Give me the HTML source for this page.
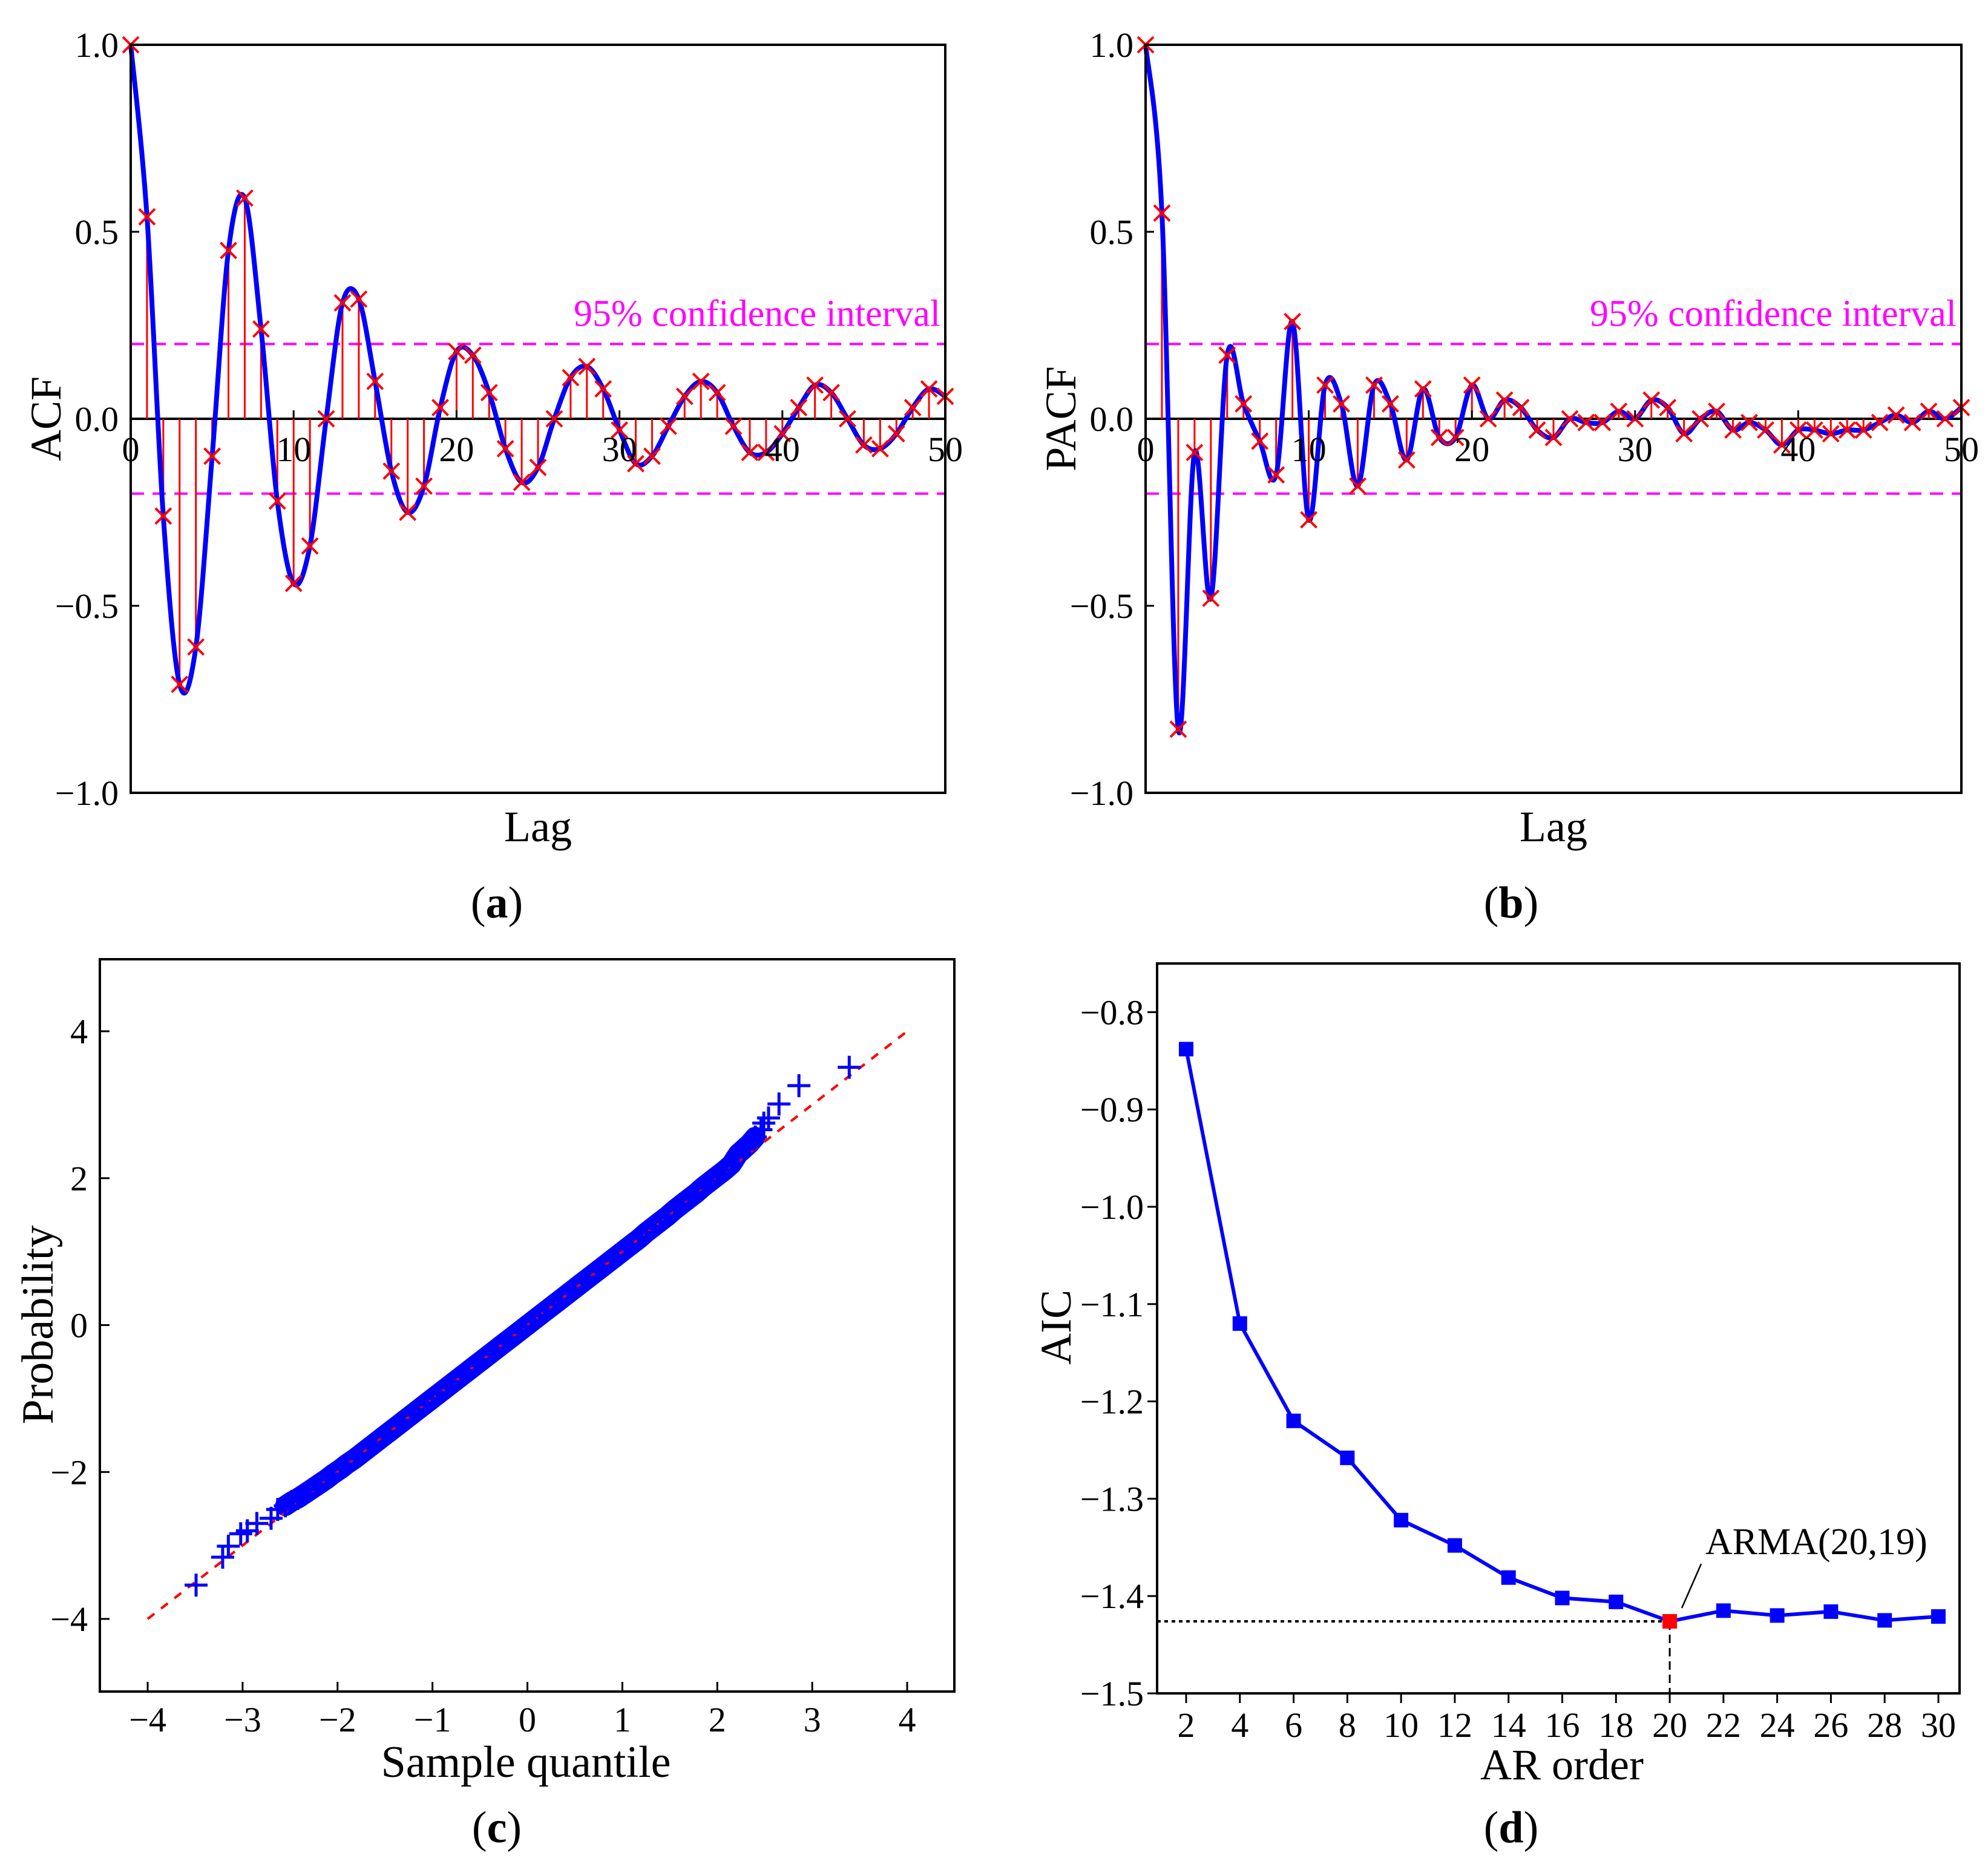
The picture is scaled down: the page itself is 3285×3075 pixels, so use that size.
<!DOCTYPE html>
<html><head><meta charset="utf-8"><style>
html,body{margin:0;padding:0;background:#fff;}
svg{display:block;font-family:"Liberation Serif",serif;}
</style></head><body>
<svg id="fig" width="3285" height="3075" viewBox="0 0 3285 3075" xmlns="http://www.w3.org/2000/svg">
<rect width="3285" height="3075" fill="#fff"/>
</svg>
<script>
const lags = [0,1,2,3,4,5,6,7,8,9,10,11,12,13,14,15,16,17,18,19,20,21,22,23,24,25,26,27,28,29,30,31,32,33,34,35,36,37,38,39,40,41,42,43,44,45,46,47,48,49,50];
const acfValues = [1.0,0.54,-0.26,-0.71,-0.61,-0.10,0.45,0.59,0.24,-0.22,-0.44,-0.34,0.0,0.31,0.32,0.10,-0.14,-0.25,-0.18,0.03,0.18,0.17,0.07,-0.08,-0.17,-0.13,0.0,0.11,0.14,0.08,-0.03,-0.12,-0.10,-0.02,0.06,0.10,0.07,-0.02,-0.09,-0.09,-0.04,0.03,0.09,0.07,0.0,-0.07,-0.08,-0.04,0.03,0.08,0.06];
const pacfValues = [1.0,0.55,-0.83,-0.09,-0.48,0.17,0.04,-0.06,-0.15,0.26,-0.27,0.09,0.04,-0.18,0.09,0.04,-0.11,0.08,-0.05,-0.05,0.09,0.0,0.05,0.03,-0.03,-0.05,0.0,-0.01,-0.01,0.02,0.0,0.05,0.03,-0.04,0.0,0.02,-0.03,-0.01,-0.03,-0.07,-0.03,-0.03,-0.04,-0.03,-0.03,-0.01,0.01,-0.01,0.02,0.0,0.03];
const confLevel = 0.2;
const corrTicks = [1.0,0.5,0.0,-0.5,-1.0];
const corrTickLabels = ["1.0","0.5","0.0","\u22120.5","\u22121.0"];
const lagTicks = [0,10,20,30,40,50];
const qqX = [-3.49,-3.21,-3.15,-3.02,-2.95,-2.85,-2.70,-2.63,-2.55,-2.48,-2.42,-2.35,-2.28,-2.2,-2.12,-2.05,-1.97,-1.9,-1.82,-1.75,-1.67,-1.6,-1.52,-1.45,-1.37,-1.3,-1.22,-1.15,-1.07,-1.0,-0.92,-0.85,-0.77,-0.7,-0.62,-0.55,-0.47,-0.4,-0.32,-0.25,-0.17,-0.1,-0.02,0.05,0.13,0.2,0.28,0.35,0.43,0.5,0.58,0.65,0.73,0.8,0.88,0.95,1.03,1.1,1.18,1.25,1.33,1.4,1.48,1.55,1.63,1.7,1.78,1.85,1.93,2.0,2.08,2.15,2.22,2.28,2.34,2.40,2.46,2.49,2.54,2.65,2.86,3.39];
const qqY = [-3.54,-3.16,-3.01,-2.84,-2.80,-2.70,-2.63,-2.51,-2.46,-2.40,-2.36,-2.30,-2.24,-2.17,-2.10,-2.03,-1.96,-1.89,-1.82,-1.75,-1.67,-1.60,-1.52,-1.45,-1.37,-1.30,-1.22,-1.15,-1.07,-1.0,-0.92,-0.85,-0.77,-0.70,-0.62,-0.55,-0.47,-0.40,-0.32,-0.25,-0.17,-0.10,-0.02,0.05,0.13,0.2,0.28,0.35,0.43,0.5,0.58,0.65,0.73,0.8,0.88,0.95,1.03,1.1,1.18,1.26,1.34,1.41,1.49,1.57,1.65,1.72,1.80,1.88,1.96,2.03,2.11,2.19,2.33,2.40,2.47,2.56,2.66,2.75,2.82,3.01,3.26,3.51];
const qqTicks = [-4,-3,-2,-1,0,1,2,3,4];
const qqYTicks = [4,2,0,-2,-4];
const arOrders = [2,4,6,8,10,12,14,16,18,20,22,24,26,28,30];
const aicValues = [-0.838,-1.12,-1.22,-1.258,-1.322,-1.348,-1.381,-1.402,-1.406,-1.426,-1.415,-1.42,-1.416,-1.425,-1.421];
const aicTicks = [-0.8,-0.9,-1.0,-1.1,-1.2,-1.3,-1.4,-1.5];
const bestOrderIndex = 9;
const bestLabel = "ARMA(20,19)";

const NS = "http://www.w3.org/2000/svg";
const svg = document.getElementById('fig');
function mk(tag, attrs, parent, text){
  const e = document.createElementNS(NS, tag);
  for (const k in attrs) e.setAttribute(k, attrs[k]);
  if (text !== undefined) e.textContent = text;
  (parent || svg).appendChild(e);
  return e;
}
function catmull(pts){
  let d = "M" + pts[0][0] + "," + pts[0][1];
  for (let i = 0; i < pts.length - 1; i++){
    const p0 = pts[i-1] || pts[i], p1 = pts[i], p2 = pts[i+1], p3 = pts[i+2] || pts[i+1];
    const c1 = [p1[0] + (p2[0]-p0[0])/6, p1[1] + (p2[1]-p0[1])/6];
    const c2 = [p2[0] - (p3[0]-p1[0])/6, p2[1] - (p3[1]-p1[1])/6];
    d += " C" + c1[0] + "," + c1[1] + " " + c2[0] + "," + c2[1] + " " + p2[0] + "," + p2[1];
  }
  return d;
}

function corrPanel(key, L, R, vals, yTitle, letter, letterX){
  const T = 74, B = 1310;
  const g = mk('g', {});
  
  
  const X = v => L + (v - 0) / 50 * (R - L);
  const Y = v => (T + B) / 2 - v * (B - T) / 2;
  [confLevel, -confLevel].forEach((c, i) => {
    const l = mk('line', {x1:L, x2:R, y1:Y(c), y2:Y(c), stroke:'#ff00ff', 'stroke-width':4, 'stroke-dasharray':'22,14'}, g);
    
    
  });
  const ct = mk('text', {x:R - 8, y:Y(confLevel) - 30, 'font-size':62, fill:'#ff00ff', 'text-anchor':'end'}, g, '95% confidence interval');
  
  
  const z = mk('line', {x1:L, x2:R, y1:Y(0), y2:Y(0), stroke:'#000', 'stroke-width':4}, g);
  
  
  lags.forEach((k, i) => {
    const s = mk('line', {x1:X(k), x2:X(k), y1:Y(0), y2:Y(vals[i]), stroke:'#ff0000', 'stroke-width':3}, g);
    
    
  });
  const pts = lags.map((k, i) => [X(k), Y(vals[i])]);
  const c = mk('path', {d:catmull(pts), fill:'none', stroke:'#0000ff', 'stroke-width':8, 'stroke-linejoin':'round'}, g);
  
  
  lags.forEach((k, i) => {
    const x = X(k), y = Y(vals[i]), s = 13;
    const m = mk('path', {d:`M${x-s},${y-s}L${x+s},${y+s}M${x-s},${y+s}L${x+s},${y-s}`, stroke:'#ff0000', 'stroke-width':4, fill:'none'}, g);
    
    
  });
  const f = mk('rect', {x:L, y:T, width:R-L, height:B-T, fill:'none', stroke:'#000', 'stroke-width':4}, g);
  
  
  corrTicks.forEach((v, i) => {
    const t = mk('text', {x:L - 20, y:Y(v) + 20, 'font-size':58, 'text-anchor':'end'}, g, corrTickLabels[i]);
    
    
    const tk = mk('line', {x1:L, x2:L + 14, y1:Y(v), y2:Y(v), stroke:'#000', 'stroke-width':3}, g);
    
    
  });
  lagTicks.forEach(v => {
    const tk = mk('line', {x1:X(v), x2:X(v), y1:Y(0), y2:Y(0) - 14, stroke:'#000', 'stroke-width':3}, g);
    
    
    const t = mk('text', {x:X(v), y:Y(0) + 70, 'font-size':58, 'text-anchor':'middle'}, g, String(v));
    
    
  });
  const xl = mk('text', {x:(L+R)/2, y:1390, 'font-size':72, 'text-anchor':'middle'}, g, 'Lag');
  
  
  const yx = L - 140;
  const yl = mk('text', {x:yx, y:Y(0) + 24, 'font-size':72, 'text-anchor':'middle', transform:`rotate(-90 ${yx} ${Y(0)})`}, g, yTitle);
  
  
  const pl = mk('text', {x:letterX, y:1516, 'font-size':74, 'text-anchor':'middle'}, g);
  
  
  mk('tspan', {}, pl, '(');
  mk('tspan', {'font-weight':'bold'}, pl, letter);
  mk('tspan', {}, pl, ')');
}
corrPanel('acf', 216, 1562, acfValues, 'ACF', 'a', 821);
corrPanel('pacf', 1893, 3241, pacfValues, 'PACF', 'b', 2497);

(function(){
  const L = 165, R = 1577, T = 1585, B = 2795;
  const g = mk('g', {});
  
  
  const X = v => 244 + (v + 4) / 8 * (1499 - 244);
  const Y = v => 2675 - (v + 4) / 8 * (2675 - 1704);
  const ref = mk('line', {x1:X(-4), y1:Y(-4), x2:X(4), y2:Y(4), stroke:'#ff0000', 'stroke-width':4, 'stroke-dasharray':'14,14'}, g);
  
  
  const band = qqX.slice(8, 76).map((v, i) => X(v) + ',' + Y(qqY[i + 8])).join(' ');
  const bl = mk('polyline', {points:band, fill:'none', stroke:'#0000ff', 'stroke-width':34, 'stroke-linejoin':'round', 'stroke-linecap':'round'}, g);
  
  
  const ref2 = mk('line', {x1:X(-4), y1:Y(-4), x2:X(4), y2:Y(4), stroke:'#ff0000', 'stroke-width':4, 'stroke-dasharray':'14,14', opacity:0.9}, g);
  
  
  qqX.forEach((v, i) => {
    const x = X(v), y = Y(qqY[i]), s = 19;
    const m = mk('path', {d:`M${x-s},${y}L${x+s},${y}M${x},${y-s}L${x},${y+s}`, stroke:'#0000ff', 'stroke-width':5, fill:'none'}, g);
    
    
  });
  const f = mk('rect', {x:L, y:T, width:R-L, height:B-T, fill:'none', stroke:'#000', 'stroke-width':4}, g);
  
  
  qqTicks.forEach(v => {
    const tk = mk('line', {x1:X(v), x2:X(v), y1:B, y2:B - 16, stroke:'#000', 'stroke-width':3}, g);
    
    
    const t = mk('text', {x:X(v), y:B + 66, 'font-size':58, 'text-anchor':'middle'}, g, v < 0 ? '\u2212' + Math.abs(v) : String(v));
    
    
  });
  qqYTicks.forEach(v => {
    const tk = mk('line', {x1:L, x2:L + 16, y1:Y(v), y2:Y(v), stroke:'#000', 'stroke-width':3}, g);
    
    
    const t = mk('text', {x:L - 20, y:Y(v) + 20, 'font-size':58, 'text-anchor':'end'}, g, v < 0 ? '\u2212' + Math.abs(v) : String(v));
    
    
  });
  const xl = mk('text', {x:869, y:2936, 'font-size':74, 'text-anchor':'middle'}, g, 'Sample quantile');
  
  
  const yl = mk('text', {x:63, y:2213, 'font-size':74, 'text-anchor':'middle', transform:'rotate(-90 63 2189)'}, g, 'Probability');
  
  
  const pl = mk('text', {x:821, y:3044, 'font-size':74, 'text-anchor':'middle'}, g);
  
  
  mk('tspan', {}, pl, '(');
  mk('tspan', {'font-weight':'bold'}, pl, 'c');
  mk('tspan', {}, pl, ')');
})();

(function(){
  const L = 1912, R = 3238, T = 1592, B = 2798;
  const g = mk('g', {});
  
  
  const X = v => 1960 + (v - 2) / 28 * (3203 - 1960);
  const Y = v => B - (v + 1.5) / 0.75 * (B - T);
  const bx = X(arOrders[bestOrderIndex]), by = Y(aicValues[bestOrderIndex]);
  const hl = mk('line', {x1:L, x2:bx, y1:by, y2:by, stroke:'#000', 'stroke-width':4, 'stroke-dasharray':'6,6'}, g);
  
  
  const vl = mk('line', {x1:bx, x2:bx, y1:by, y2:B, stroke:'#000', 'stroke-width':3, 'stroke-dasharray':'14,8'}, g);
  
  
  const line = mk('polyline', {points:arOrders.map((o, i) => X(o) + ',' + Y(aicValues[i])).join(' '), fill:'none', stroke:'#0000ff', 'stroke-width':6}, g);
  
  
  arOrders.forEach((o, i) => {
    const m = mk('rect', {x:X(o) - 12, y:Y(aicValues[i]) - 12, width:24, height:24, fill: i === bestOrderIndex ? '#ff0000' : '#0000ff'}, g);
    
    
  });
  const ld = mk('line', {x1:bx + 20, y1:by - 22, x2:bx + 52, y2:by - 95, stroke:'#000', 'stroke-width':2.5}, g);
  
  
  const an = mk('text', {x:2818, y:2568, 'font-size':62}, g, bestLabel);
  
  
  const f = mk('rect', {x:L, y:T, width:R-L, height:B-T, fill:'none', stroke:'#000', 'stroke-width':4}, g);
  
  
  aicTicks.forEach(v => {
    const tk = mk('line', {x1:L - 16, x2:L, y1:Y(v), y2:Y(v), stroke:'#000', 'stroke-width':3}, g);
    
    
    const t = mk('text', {x:L - 22, y:Y(v) + 20, 'font-size':58, 'text-anchor':'end'}, g, '\u2212' + Math.abs(v).toFixed(1));
    
    
  });
  arOrders.forEach(o => {
    const tk = mk('line', {x1:X(o), x2:X(o), y1:B, y2:B + 16, stroke:'#000', 'stroke-width':3}, g);
    
    
    const t = mk('text', {x:X(o), y:B + 72, 'font-size':58, 'text-anchor':'middle'}, g, String(o));
    
    
  });
  const xl = mk('text', {x:2581, y:2940, 'font-size':72, 'text-anchor':'middle'}, g, 'AR order');
  
  
  const yl = mk('text', {x:1745, y:2217, 'font-size':72, 'text-anchor':'middle', transform:'rotate(-90 1745 2193)'}, g, 'AIC');
  
  
  const pl = mk('text', {x:2497, y:3044, 'font-size':74, 'text-anchor':'middle'}, g);
  
  
  mk('tspan', {}, pl, '(');
  mk('tspan', {'font-weight':'bold'}, pl, 'd');
  mk('tspan', {}, pl, ')');
})();
</script>
</body></html>
